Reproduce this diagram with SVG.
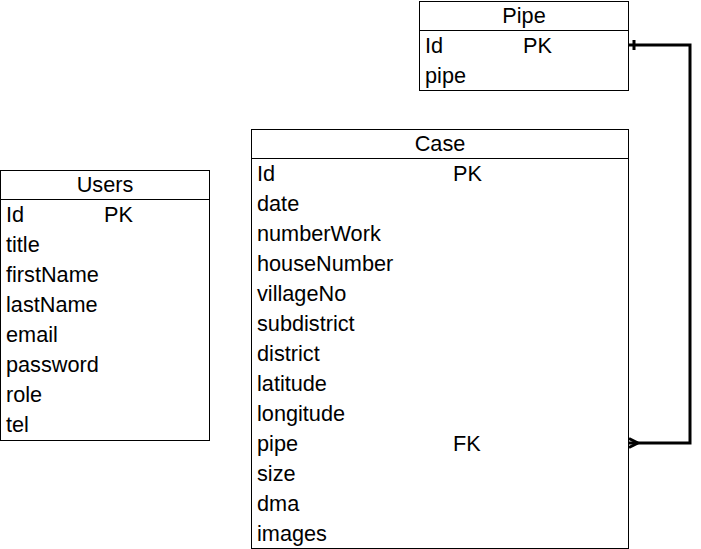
<svg xmlns="http://www.w3.org/2000/svg" width="701" height="549" viewBox="0 0 701 549">
<style>
.box{fill:#fff;stroke:#000;stroke-width:1}
.t{font-family:"Liberation Sans",Arial,sans-serif;font-size:21.7px;fill:#000}
.h{text-anchor:middle}
.c{fill:none;stroke:#000;stroke-width:3}
</style>
<rect width="701" height="549" fill="#fff"/>
<g id="pipe">
<rect class="box" x="419.5" y="1.5" width="209" height="89"/>
<line class="box" x1="419.5" y1="30.5" x2="628.5" y2="30.5"/>
<text class="t h" x="524" y="23">Pipe</text>
<text class="t" x="425" y="53">Id</text><text class="t" x="523" y="53">PK</text>
<text class="t" x="425" y="83">pipe</text>
</g>
<g id="case">
<rect class="box" x="251.5" y="129.5" width="377" height="419"/>
<line class="box" x1="251.5" y1="158.5" x2="628.5" y2="158.5"/>
<text class="t h" x="440" y="151">Case</text>
<text class="t" x="257" y="181">Id</text><text class="t" x="453" y="181">PK</text>
<text class="t" x="257" y="211">date</text>
<text class="t" x="257" y="241">numberWork</text>
<text class="t" x="257" y="271">houseNumber</text>
<text class="t" x="257" y="301">villageNo</text>
<text class="t" x="257" y="331">subdistrict</text>
<text class="t" x="257" y="361">district</text>
<text class="t" x="257" y="391">latitude</text>
<text class="t" x="257" y="421">longitude</text>
<text class="t" x="257" y="451">pipe</text><text class="t" x="453" y="451">FK</text>
<text class="t" x="257" y="481">size</text>
<text class="t" x="257" y="511">dma</text>
<text class="t" x="257" y="541">images</text>
</g>
<g id="users">
<rect class="box" x="0.5" y="170.5" width="209" height="270"/>
<line class="box" x1="0.5" y1="199.5" x2="209.5" y2="199.5"/>
<text class="t h" x="105" y="192">Users</text>
<text class="t" x="6" y="222">Id</text><text class="t" x="104" y="222">PK</text>
<text class="t" x="6" y="252">title</text>
<text class="t" x="6" y="282">firstName</text>
<text class="t" x="6" y="312">lastName</text>
<text class="t" x="6" y="342">email</text>
<text class="t" x="6" y="372">password</text>
<text class="t" x="6" y="402">role</text>
<text class="t" x="6" y="432">tel</text>
</g>
<g id="connectors">
<path class="c" d="M629 45 H690 V443 H629"/>
<line class="c" x1="634" y1="40" x2="634" y2="50"/>
<path class="c" d="M638 443 L629 438.5 M638 443 L629 447.5"/>
</g>
</svg>
